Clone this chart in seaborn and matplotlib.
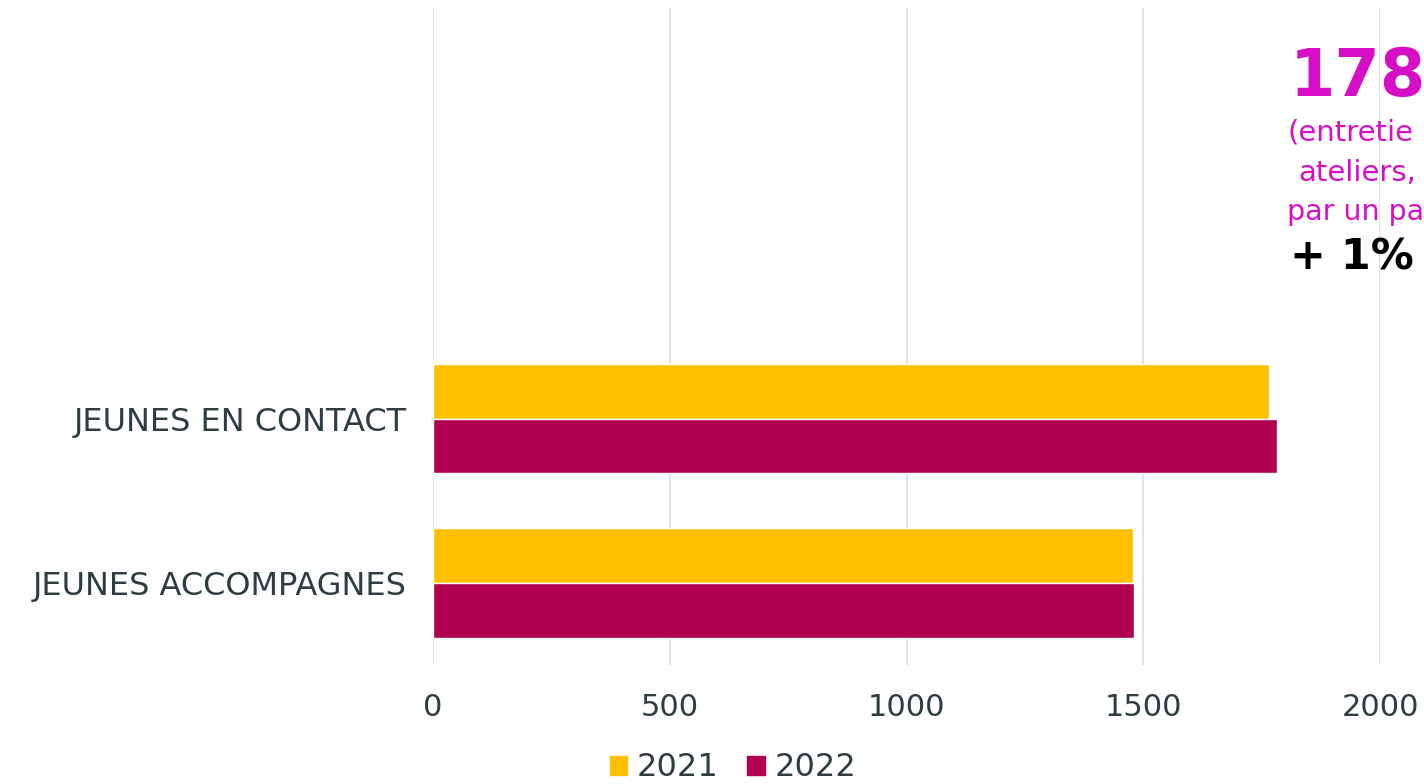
import matplotlib
matplotlib.use("Agg")
import matplotlib.pyplot as plt
import seaborn as sns
import pandas as pd
from matplotlib.patches import Patch

categories = ["JEUNES EN CONTACT", "JEUNES ACCOMPAGNES"]
years = ["2021", "2022"]
values_2021 = [1765, 1478]
values_2022 = [1782, 1480]
x_ticks = [0, 500, 1000, 1500, 2000]

df = pd.DataFrame({
    "cat": categories * 2,
    "year": [years[0]] * 2 + [years[1]] * 2,
    "val": values_2021 + values_2022,
})

sns.set_theme(style="white")
plt.rcParams["font.family"] = ["DejaVu Sans"]

palette = {"2021": "#FFC000", "2022": "#B00050"}
text_col = "#2E3D42"

fig = plt.figure(figsize=(14.24, 7.84), dpi=100)
ax = fig.add_axes([433 / 1424, 1 - 665 / 784, (1380 - 433) / 1424, (665 - 8) / 784])

sns.barplot(data=df, y="cat", x="val", hue="year", order=categories,
            hue_order=years, palette=palette, orient="h", width=0.667,
            saturation=1, ax=ax, legend=False)

ax.set_xlim(0, 2000)
ax.set_ylim(1.5, -2.5)
ax.set_xticks(x_ticks)
ax.set_xticklabels([str(t) for t in x_ticks])
ax.grid(axis="x", color="#DCE6E8", linewidth=1.5)
ax.set_axisbelow(True)
for s in ax.spines.values():
    s.set_visible(False)
ax.set_xlabel("")
ax.set_ylabel("")
ax.tick_params(axis="x", length=0, colors=text_col, labelsize=22, pad=20)
ax.tick_params(axis="y", length=0, colors=text_col, labelsize=23, pad=19)

handles = [Patch(color=palette[y], label=y) for y in years]
fig.legend(handles=handles, loc="center", bbox_to_anchor=(733 / 1424, 1 - 768 / 784),
           ncol=2, frameon=False, fontsize=23, handlelength=0.55, handleheight=0.55,
           handletextpad=0.3, columnspacing=0.9, labelcolor=text_col)

mag = "#D60FC6"
fig.text(1290 / 1424, 1 - 78 / 784, "178", color=mag, fontsize=47,
         fontweight="bold", va="center", ha="left")
fig.text(1287 / 1424, 1 - 133 / 784, "(entretie", color=mag,
         fontsize=21, va="center", ha="left")
fig.text(1298 / 1424, 1 - 173 / 784, "ateliers,", color=mag,
         fontsize=21, va="center", ha="left")
fig.text(1287 / 1424, 1 - 212 / 784, "par un pa", color=mag,
         fontsize=20.5, va="center", ha="left")
fig.text(1290 / 1424, 1 - 257 / 784, "+ 1%", color="black",
         fontsize=31, fontweight="bold", va="center", ha="left")

fig.savefig("out.png", dpi=100)
